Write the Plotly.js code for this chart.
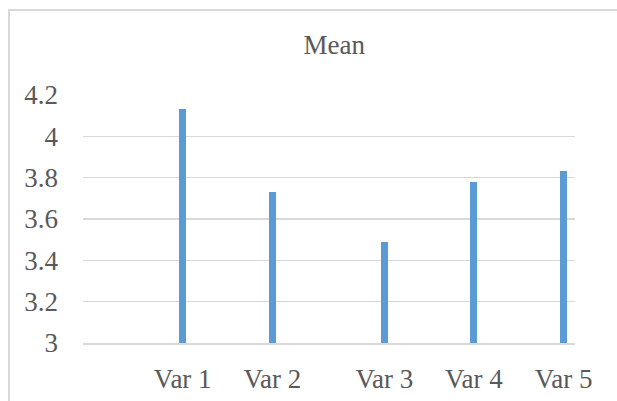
<!DOCTYPE html>
<html>
<head>
<meta charset="utf-8">
<script src="https://cdn.plot.ly/plotly-3.0.1.min.js"></script>
<style>
  html, body { margin: 0; padding: 0; background: #ffffff; }
  #chart { width: 617px; height: 401px; position: relative; }
  #frame { position: absolute; left: 8px; top: 9px; width: 700px; height: 500px;
           border-left: 2px solid #d9d9d9; border-top: 2px solid #d9d9d9; pointer-events: none; }
</style>
</head>
<body>
<div id="chart"></div>
<div id="frame"></div>
<script>
const categories = ['Var 1', 'Var 2', 'Var 3', 'Var 4', 'Var 5'];
const categoryPositions = [1, 2, 3.25, 4.25, 5.25];
const meanValues = [4.13, 3.73, 3.49, 3.78, 3.83];
const yTickValues = [3, 3.2, 3.4, 3.6, 3.8, 4, 4.2];
const yTickLabels = ['3', '3.2', '3.4', '3.6', '3.8', '4', '4.2'];

const textColor = '#595959';
const fontFamily = '"Liberation Serif", "Times New Roman", serif';

const trace = {
  type: 'bar',
  x: categoryPositions,
  y: meanValues,
  width: 0.078,
  marker: { color: '#5b9bd5', line: { width: 0 } },
  hoverinfo: 'x+y'
};

const layout = {
  width: 617,
  height: 401,
  margin: { l: 83, r: 42, t: 95, b: 58, pad: 0 },
  paper_bgcolor: '#ffffff',
  plot_bgcolor: '#ffffff',
  showlegend: false,
  title: {
    text: 'Mean',
    font: { family: fontFamily, size: 27, color: textColor },
    x: 315 / 617,
    xanchor: 'center',
    xref: 'paper',
    y: 1 - 45 / 401,
    yanchor: 'middle',
    yref: 'container'
  },
  xaxis: {
    type: 'linear',
    range: [-0.113, 5.378],
    tickmode: 'array',
    tickvals: categoryPositions,
    ticktext: categories,
    showgrid: false,
    zeroline: false,
    showline: true,
    linecolor: '#d9d9d9',
    linewidth: 1.5,
    ticks: '',
    ticklabelstandoff: 11,
    tickfont: { family: fontFamily, size: 27, color: textColor },
    fixedrange: true
  },
  yaxis: {
    range: [3, 4.2],
    tickmode: 'array',
    tickvals: yTickValues,
    ticktext: yTickLabels,
    showgrid: true,
    gridcolor: '#d9d9d9',
    gridwidth: 1.5,
    zeroline: false,
    showline: false,
    ticks: '',
    ticklabelstandoff: 24,
    tickfont: { family: fontFamily, size: 27, color: textColor },
    fixedrange: true
  },
  bargap: 0
};

Plotly.newPlot('chart', [trace], layout, { displayModeBar: false, staticPlot: true });
</script>
</body>
</html>
